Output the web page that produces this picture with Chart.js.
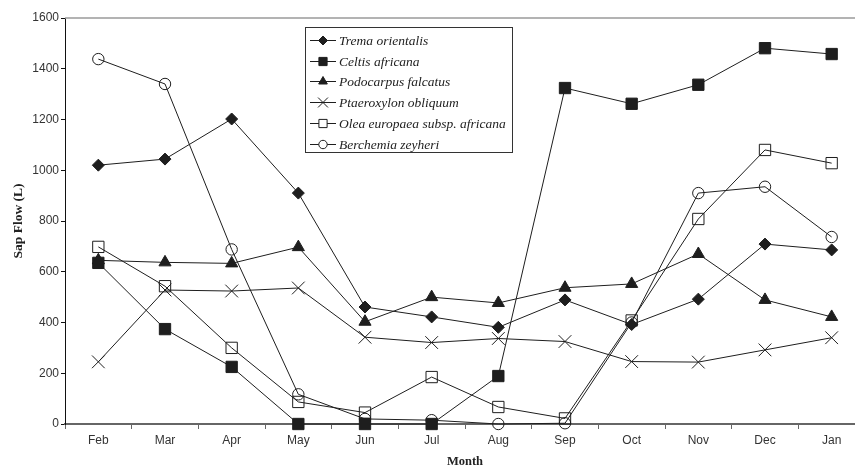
<!DOCTYPE html>
<html>
<head>
<meta charset="utf-8">
<script src="https://cdn.jsdelivr.net/npm/chart.js@4/dist/chart.umd.min.js"></script>
<style>
  html, body { margin: 0; padding: 0; background: #fff; overflow: hidden; width: 855px; height: 469px; }
  #wrap { width: 855px; height: 469px; overflow: hidden; position: relative; }
</style>
</head>
<body>
<div id="wrap"><canvas id="c" width="855" height="469"></canvas></div>
<script>
// Monthly sap flow per species (litres)
const months = ['Feb', 'Mar', 'Apr', 'May', 'Jun', 'Jul', 'Aug', 'Sep', 'Oct', 'Nov', 'Dec', 'Jan'];
const tremaOrientalis   = [1020, 1044, 1202, 910, 461, 422, 381, 489, 392, 492, 709, 686];
const celtisAfricana    = [635, 374, 225, 0, 0, 0, 189, 1324, 1262, 1337, 1481, 1458];
const podocarpusFalcatus = [645, 637, 633, 697, 403, 500, 477, 537, 552, 670, 489, 422];
const ptaeroxylonObliquum = [245, 528, 524, 536, 342, 321, 337, 325, 246, 244, 292, 340];
const oleaEuropaea      = [698, 543, 300, 87, 45, 185, 67, 22, 408, 808, 1080, 1028];
const berchemiaZeyheri  = [1438, 1340, 688, 117, 20, 15, 0, 3, 400, 910, 935, 737];

const speciesNames = ['Trema orientalis', 'Celtis africana', 'Podocarpus falcatus',
  'Ptaeroxylon obliquum', 'Olea europaea subsp. africana', 'Berchemia zeyheri'];
const yTicks = [0, 200, 400, 600, 800, 1000, 1200, 1400, 1600];

const INK = '#1e1e1e';
const NONE = 'rgba(0,0,0,0)';
// the plot runs on past the right edge of the canvas
const PLOT_RIGHT = 865;

function series(label, data, style, radius, filled, legendRadius) {
  return {
    label, data,
    borderColor: INK, borderWidth: 1,
    pointStyle: style, pointRadius: radius, pointHoverRadius: radius,
    pointBorderColor: INK, pointBorderWidth: 1,
    pointBackgroundColor: filled ? INK : NONE,
    backgroundColor: filled ? INK : NONE,
    tension: 0, fill: false, clip: false,
    legendRadius
  };
}

const datasets = [
  series(speciesNames[0], tremaOrientalis, 'rectRot', 6, true, 4.5),
  series(speciesNames[1], celtisAfricana, 'rect', 8, true, 5.8),
  series(speciesNames[2], podocarpusFalcatus, 'triangle', 7, true, 5),
  series(speciesNames[3], ptaeroxylonObliquum, 'crossRot', 9, false, 7),
  series(speciesNames[4], oleaEuropaea, 'rect', 8, false, 5.8),
  series(speciesNames[5], berchemiaZeyheri, 'circle', 5.7, false, 4.2)
];

// Simple marker painter for the boxed key
function marker(ctx, style, r, x, y, filled) {
  ctx.save();
  ctx.strokeStyle = INK; ctx.lineWidth = 1;
  ctx.beginPath();
  if (style === 'rectRot') {
    ctx.moveTo(x, y - r); ctx.lineTo(x + r, y); ctx.lineTo(x, y + r); ctx.lineTo(x - r, y); ctx.closePath();
  } else if (style === 'rect') {
    const s = r * Math.SQRT1_2;
    ctx.rect(x - s, y - s, 2 * s, 2 * s);
  } else if (style === 'triangle') {
    ctx.moveTo(x, y - r); ctx.lineTo(x + r * 0.866, y + r * 0.5); ctx.lineTo(x - r * 0.866, y + r * 0.5); ctx.closePath();
  } else if (style === 'crossRot') {
    const s = r * Math.SQRT1_2;
    ctx.moveTo(x - s, y - s); ctx.lineTo(x + s, y + s); ctx.moveTo(x + s, y - s); ctx.lineTo(x - s, y + s);
  } else {
    ctx.arc(x, y, r, 0, Math.PI * 2);
  }
  if (style !== 'crossRot') { ctx.fillStyle = filled ? INK : '#fff'; ctx.fill(); }
  ctx.stroke();
  ctx.restore();
}

// stretch the horizontal scale so its last category runs off the canvas
const widenPlot = {
  id: 'widenPlot',
  afterLayout(chart) {
    const x = chart.scales.x;
    x.right = PLOT_RIGHT;
    x.width = x.right - x.left;
    x.configure();
    chart.chartArea.right = PLOT_RIGHT;
    chart.chartArea.width = PLOT_RIGHT - chart.chartArea.left;
  }
};

const frameAndKey = {
  id: 'frameAndKey',
  afterDraw(chart) {
    const ctx = chart.ctx;
    const a = chart.chartArea;
    // light frame line along the top of the plot
    ctx.save();
    ctx.strokeStyle = '#9a9a9a'; ctx.lineWidth = 1.5;
    ctx.beginPath(); ctx.moveTo(a.left, a.top); ctx.lineTo(a.right, a.top); ctx.stroke();

    // boxed key
    const bx = 305.5, by = 27.5, bw = 207, bh = 125;
    ctx.fillStyle = '#fff';
    ctx.fillRect(bx, by, bw, bh);
    ctx.strokeStyle = '#333'; ctx.lineWidth = 1;
    ctx.strokeRect(bx, by, bw, bh);
    ctx.font = 'italic 13.5px "Liberation Serif", "DejaVu Serif", serif';
    ctx.textBaseline = 'middle';
    ctx.textAlign = 'left';
    chart.data.datasets.forEach((ds, i) => {
      const y = Math.round(40 + i * 20.7) + 0.5;
      ctx.strokeStyle = INK; ctx.lineWidth = 1;
      ctx.beginPath(); ctx.moveTo(310, y); ctx.lineTo(336, y); ctx.stroke();
      marker(ctx, ds.pointStyle, ds.legendRadius, 323, y, ds.pointBackgroundColor !== NONE);
      ctx.fillStyle = '#222';
      ctx.fillText(ds.label, 339, y + 1);
    });
    ctx.restore();
  }
};

new Chart(document.getElementById('c'), {
  type: 'line',
  data: { labels: months, datasets },
  plugins: [widenPlot, frameAndKey],
  options: {
    responsive: false,
    animation: false,
    events: [],
    layout: { padding: { left: 0, right: 0, top: 18, bottom: 0 } },
    plugins: { legend: { display: false }, tooltip: { enabled: false } },
    scales: {
      x: {
        type: 'category',
        offset: true,
        grid: { display: true, offset: true, drawOnChartArea: false, drawTicks: true, tickLength: 5, color: '#666', lineWidth: 1 },
        border: { display: true, color: '#666', width: 2 },
        ticks: { color: '#333', padding: 4, font: { family: '"Liberation Sans", Arial, sans-serif', size: 12 }, maxRotation: 0, autoSkip: false },
        title: { display: true, text: 'Month', color: '#222', padding: { top: 0, bottom: 0 },
                 font: { family: '"Liberation Serif", "Times New Roman", serif', size: 12.5, weight: 'bold' } },
        afterFit(scale) { scale.height = 45; }
      },
      y: {
        min: 0, max: 1600,
        afterBuildTicks(scale) { scale.ticks = yTicks.map(v => ({ value: v })); },
        grid: { display: true, drawOnChartArea: false, drawTicks: true, tickLength: 4, color: '#111' },
        border: { display: true, color: '#111', width: 1 },
        ticks: { color: '#333', padding: 2, callback: v => String(v),
                 font: { family: '"Liberation Sans", Arial, sans-serif', size: 12 } },
        title: { display: true, text: 'Sap Flow (L)', color: '#222', padding: { top: 10, bottom: 0 },
                 font: { family: '"Liberation Serif", "Times New Roman", serif', size: 13.5, weight: 'bold' } },
        afterFit(scale) { scale.width = 65; }
      }
    }
  }
});
</script>
</body>
</html>
